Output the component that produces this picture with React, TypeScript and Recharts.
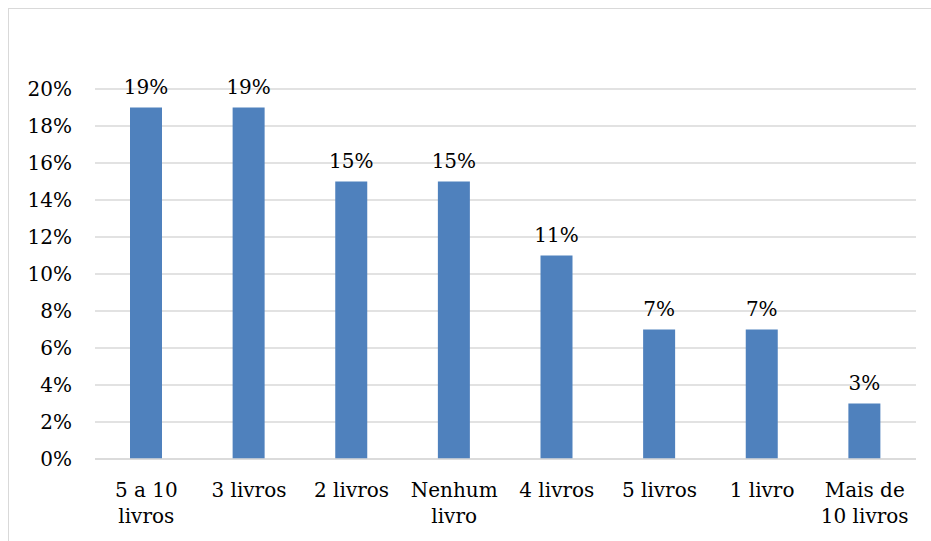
import { BarChart, Bar, XAxis, YAxis, CartesianGrid, LabelList } from "recharts";

const categories = [
  "5 a 10 livros",
  "3 livros",
  "2 livros",
  "Nenhum livro",
  "4 livros",
  "5 livros",
  "1 livro",
  "Mais de 10 livros",
];
// each category label split the way it wraps under the axis
const categoryLines = [
  ["5 a 10", "livros"],
  ["3 livros"],
  ["2 livros"],
  ["Nenhum", "livro"],
  ["4 livros"],
  ["5 livros"],
  ["1 livro"],
  ["Mais de", "10 livros"],
];
const percentages = [19, 19, 15, 15, 11, 7, 7, 3];
const yTicks = [0, 2, 4, 6, 8, 10, 12, 14, 16, 18, 20];

const data = categories.map((name, i) => ({
  name,
  value: percentages[i],
}));

const FONT = "'DejaVu Serif', serif";

function CategoryTick(props: any) {
  const { x, y, payload, index } = props;
  const lines = categoryLines[index] ?? [payload.value];
  return (
    <text
      x={x}
      y={y}
      textAnchor="middle"
      fontFamily={FONT}
      fontSize={20}
      fill="#000"
    >
      {lines.map((l: string, i: number) => (
        <tspan key={i} x={x} dy={i === 0 ? 35 : 26}>
          {l}
        </tspan>
      ))}
    </text>
  );
}

export default function App() {
  return (
    <>
      <style>{"html,body{overflow:hidden}"}</style>
      <div
        style={{
          position: "fixed",
          left: 8,
          top: 8,
          width: 923,
          height: 533,
          borderTop: "1px solid #d9d9d9",
          borderLeft: "1px solid #d9d9d9",
          boxSizing: "border-box",
          background: "#fff",
          overflow: "hidden",
        }}
      >
        <BarChart
          width={922}
          height={532}
          data={data}
          margin={{ top: 80, right: 15, bottom: 12, left: 0 }}
        >
          <CartesianGrid vertical={false} stroke="#d9d9d9" strokeWidth={1.5} />
          <XAxis
            dataKey="name"
            height={70}
            axisLine={{ stroke: "#d9d9d9", strokeWidth: 1.5 }}
            tickLine={false}
            tickSize={0}
            tickMargin={3}
            interval={0}
            tick={<CategoryTick />}
          />
          <YAxis
            width={86}
            domain={[0, 20]}
            ticks={yTicks}
            axisLine={false}
            tickLine={false}
            tickSize={0}
            tickMargin={23}
            tickFormatter={(v: number) => `${v}%`}
            tick={{ fontFamily: FONT, fontSize: 20, fill: "#000" }}
          />
          <Bar dataKey="value" fill="#4f81bd" barSize={32} isAnimationActive={false}>
            <LabelList
              dataKey="value"
              position="top"
              offset={14}
              formatter={(v: any) => `${v}%`}
              style={{ fontFamily: FONT, fontSize: 20, fill: "#000" }}
            />
          </Bar>
        </BarChart>
      </div>
    </>
  );
}
